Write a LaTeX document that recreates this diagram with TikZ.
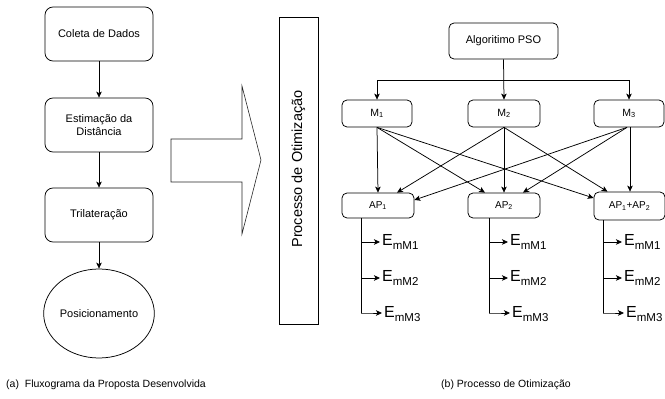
\documentclass[tikz,border=0pt]{standalone}
\usepackage{fontspec}
\setmainfont{Liberation Sans}
\usetikzlibrary{arrows.meta,shapes.geometric,calc}
\tikzset{
  arr/.style={-{Stealth[length=6pt,width=5.5pt,inset=1.5pt]}, line width=0.75pt},
  flowbox/.style={draw, line width=0.75pt, rounded corners=8pt, minimum width=108pt, minimum height=54pt, align=center, font=\fontsize{11}{13}\selectfont, inner sep=0pt},
  smallbox/.style={draw, line width=0.75pt, rounded corners=5pt, inner sep=0pt, font=\fontsize{10.5}{12}\selectfont},
  elabel/.style={anchor=west, inner sep=2pt},
  caption/.style={font=\fontsize{10.5}{12}\selectfont, inner sep=0pt}
}
\newcommand{\Elab}[1]{{\fontsize{16}{18}\selectfont E\raisebox{-3.5pt}{\fontsize{11.5}{13}\selectfont #1}}}
\begin{document}
\begin{tikzpicture}[x=1pt,y=-1pt]
\useasboundingbox (0,0) rectangle (665,399);
% left flowchart
\node[flowbox] (coleta) at (99,34) {Coleta de Dados};
\node[flowbox] (estim) at (99,125) {Estimação da\\Distância};
\node[flowbox] (tril) at (99,215) {Trilateração};
\node[draw, ellipse, line width=0.75pt, minimum width=108pt, minimum height=89pt, inner sep=0pt, font=\fontsize{11}{13}\selectfont] (pos) at (99,313.5) {Posicionamento};
\draw[arr] (coleta) -- (estim);
\draw[arr] (estim) -- (tril);
\draw[arr] (tril) -- (pos);
% big arrow
\draw[line width=0.6pt, draw=black!85] (171,139) -- (242,139) -- (242,86) -- (261,160) -- (242,234) -- (242,182) -- (171,182) -- cycle;
% process box
\node[draw, line width=0.75pt, minimum width=39pt, minimum height=307pt, inner sep=0pt] (proc) at (298.5,170.5) {};
\node[rotate=90, font=\fontsize{14.5}{16}\selectfont, inner sep=0pt] (proctext) at (298.5,169) {Processo de Otimização};
% right side
\node[smallbox, minimum width=109pt, minimum height=36pt, font=\fontsize{11}{13}\selectfont] (pso) at (503.5,41) {Algoritimo PSO};
\node[smallbox, minimum width=70pt, minimum height=27pt] (m1) at (377,113.5) {M\textsubscript{1}};
\node[smallbox, minimum width=72pt, minimum height=27pt] (m2) at (504,113.5) {M\textsubscript{2}};
\node[smallbox, minimum width=70pt, minimum height=27pt] (m3) at (629,113.5) {M\textsubscript{3}};
\node[smallbox, minimum width=72pt, minimum height=25pt, font=\fontsize{10}{12}\selectfont] (ap1) at (378,205.5) {AP\textsubscript{1}};
\node[smallbox, minimum width=72pt, minimum height=25pt, font=\fontsize{10}{12}\selectfont] (ap2) at (504,205.5) {AP\textsubscript{2}};
\node[smallbox, minimum width=71pt, minimum height=28pt, font=\fontsize{10}{12}\selectfont] (ap3) at (629.5,206) {AP\textsubscript{1}+AP\textsubscript{2}};
\coordinate (hub) at (504,80);
\draw[arr] (pso.south) -- (m2.north);
\draw[arr] (hub) -| (m1.north);
\draw[arr] (hub) -| (m3.north);
% M -> AP
\draw[arr] (m1.south) -- (ap1.north);
\draw[arr] (m1.south) -- ([xshift=-19pt]ap2.north);
\draw[arr] (m1.south) -- ([yshift=8pt]ap3.west);
\draw[arr] (m2.south) -- ([xshift=19pt]ap1.north);
\draw[arr] (m2.south) -- (ap2.north);
\draw[arr] (m2.south) -- ([xshift=-22pt]ap3.north);
\draw[arr] ([xshift=-2pt]m3.south) -- ([yshift=5.5pt]ap1.east);
\draw[arr] ([xshift=-2pt]m3.south) -- ([xshift=19pt]ap2.north);
\draw[arr] ([xshift=1pt]m3.south) -- ([xshift=0.5pt]ap3.north);
% E labels
\foreach \ap/\vx/\n in {ap1/361/a, ap2/489/b, ap3/603/c}{
  \node[elabel] (\n1) at (\vx+19,242) {\Elab{mM1}};
  \node[elabel] (\n2) at (\vx+19,278) {\Elab{mM2}};
  \node[elabel] (\n3) at (\vx+21,314) {\Elab{mM3}};
  \coordinate (\n top) at (\vx,0 |- \ap.south);
  \draw[line width=0.75pt] (\vx,0 |- \ap.south) -- (\vx,313);
  \draw[arr] (\vx,242) -- (\n1.west);
  \draw[arr] (\vx,278) -- (\n2.west);
  \draw[arr] (\vx,313) -- (\vx+8,313) -- (\n3.west |- 0,313);
}
% captions
\node[caption, anchor=west] (capa) at (6,385) {(a)\ \ Fluxograma da Proposta Desenvolvida};
\node[caption] (capb) at (506,385) {(b) Processo de Otimização};
\end{tikzpicture}
\end{document}
